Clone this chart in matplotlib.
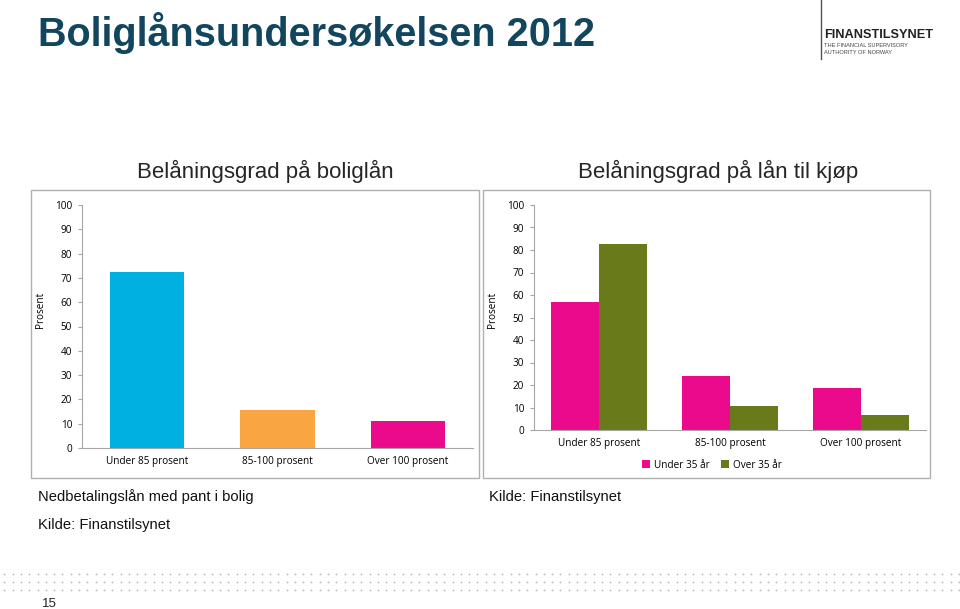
import matplotlib
matplotlib.use("Agg")
from matplotlib import pyplot as plt
from matplotlib.patches import Rectangle
import numpy as np

# data
categories = ["Under 85 prosent", "85-100 prosent", "Over 100 prosent"]
all_loans = [72.5, 15.8, 11.3]
under_35 = [56.7, 24.2, 18.8]
over_35 = [82.5, 10.5, 6.5]
series_names = ["Under 35 år", "Over 35 år"]
yticks = [0, 10, 20, 30, 40, 50, 60, 70, 80, 90, 100]

W, H = 960, 609
plt.rcParams["font.family"] = ["Liberation Sans", "DejaVu Sans"]
TICKFONT = ["Open Sans", "DejaVu Sans"]
AXCOL = "#a6a6a6"


def box(x0, y0, x1, y1):
  # pixel box -> figure fraction
  return [x0 / W, 1 - y1 / H, (x1 - x0) / W, (y1 - y0) / H]


def style(ax):
  ax.set_ylim(0, 100)
  ax.set_xlim(-0.5, 2.5)
  ax.set_yticks(yticks)
  ax.set_xticks(range(len(categories)))
  ax.set_xticklabels(categories, family=TICKFONT, fontsize=7.2)
  for lab in ax.get_yticklabels():
    lab.set_family(TICKFONT)
    lab.set_fontsize(7.2)
  for s in ["top", "right"]:
    ax.spines[s].set_visible(False)
  for s in ["left", "bottom"]:
    ax.spines[s].set_color(AXCOL)
    ax.spines[s].set_linewidth(0.8)
  ax.tick_params(axis="y", length=3, color=AXCOL, pad=4)
  ax.tick_params(axis="x", length=0, pad=6)
  ax.set_facecolor("none")


fig = plt.figure(figsize=(9.6, 6.09), dpi=100)

# background decoration layer
bg = fig.add_axes([0, 0, 1, 1])
bg.set_xlim(0, W)
bg.set_ylim(H, 0)
bg.axis("off")
bg.add_patch(Rectangle((31, 190), 448, 288, fill=False, ec="#b0b0b0", lw=1))
bg.add_patch(Rectangle((483, 190), 447, 288, fill=False, ec="#b0b0b0", lw=1))
bg.plot([821, 821], [0, 59], color="#555555", lw=1)
dx = np.arange(4.3, 960, 8.3)
for yy in [574, 582, 589.5]:
  bg.scatter(dx, np.full(len(dx), yy), s=1.6, color="#b8b8b8", lw=0)

fig.text(38 / W, 1 - 46 / H, "Boliglånsundersøkelsen 2012", fontsize=28.5,
         fontweight="bold", color="#11465e", va="baseline")
fig.text(824 / W, 1 - 35 / H, "FINANSTILSYNET", fontsize=9.2, fontweight="bold",
         color="#222222", va="center")
fig.text(824 / W, 1 - 45.5 / H, "THE FINANCIAL SUPERVISORY", fontsize=4.1,
         color="#444444", va="center")
fig.text(824 / W, 1 - 53 / H, "AUTHORITY OF NORWAY", fontsize=4.1,
         color="#444444", va="center")

fig.text(265 / W, 1 - 171 / H, "Belåningsgrad på boliglån", fontsize=16,
         ha="center", va="center", color="#262626")
fig.text(718 / W, 1 - 171 / H, "Belåningsgrad på lån til kjøp", fontsize=16,
         ha="center", va="center", color="#262626")
fig.text(38 / W, 1 - 497 / H, "Nedbetalingslån med pant i bolig", fontsize=10.6,
         va="center", color="#111111")
fig.text(38 / W, 1 - 525 / H, "Kilde: Finanstilsynet", fontsize=10.6,
         va="center", color="#111111")
fig.text(489 / W, 1 - 497 / H, "Kilde: Finanstilsynet", fontsize=10.6,
         va="center", color="#111111")
fig.text(42 / W, 1 - 604 / H, "15", fontsize=9.5, va="center", color="#222222")

# left chart
x = np.arange(len(categories))
ax1 = fig.add_axes(box(82, 205, 473, 448))
ax1.bar(x, all_loans, width=0.57, color=["#00b0e0", "#f9a541", "#ec0a8c"])
style(ax1)
fig.text(41 / W, 1 - 310 / H, "Prosent", rotation=90, family=TICKFONT,
         fontsize=7.2, ha="center", va="center")

# right chart
ax2 = fig.add_axes(box(534, 205, 926, 430))
bw = 0.367
ax2.bar(x - bw / 2, under_35, width=bw, color="#ec0a8c", label=series_names[0])
ax2.bar(x + bw / 2, over_35, width=bw, color="#697a1b", label=series_names[1])
style(ax2)
fig.text(493 / W, 1 - 310 / H, "Prosent", rotation=90, family=TICKFONT,
         fontsize=7.2, ha="center", va="center")
fig.legend(*ax2.get_legend_handles_labels(), loc="center",
           bbox_to_anchor=(712 / W, 1 - 465 / H), ncol=2, frameon=False,
           prop={"family": TICKFONT, "size": 7.2}, handlelength=0.8,
           handleheight=0.8, handletextpad=0.4, columnspacing=1.2)

fig.savefig("out.png", dpi=100)
